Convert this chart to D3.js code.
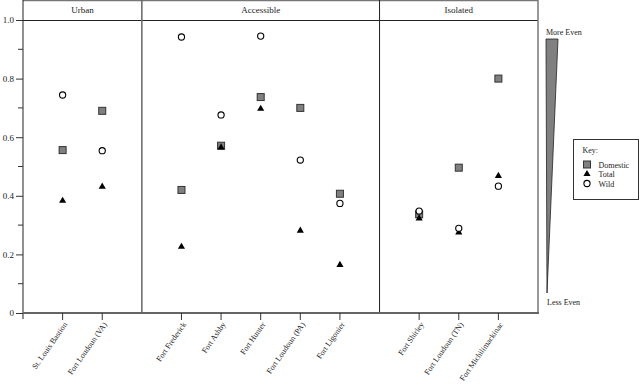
<!DOCTYPE html>
<html>
<head>
<meta charset="utf-8">
<script src="https://cdn.jsdelivr.net/npm/d3@7"></script>
<style>
  body { margin: 0; background: #fff; }
  svg text { font-family: "Liberation Serif", "DejaVu Serif", serif; font-size: 9px; fill: #222; }
</style>
</head>
<body>
<div id="wrapper"></div>
<script>
// data
const groups = ['Urban', 'Accessible', 'Isolated'];
const sites = ['St. Louis Bastion', 'Fort Loudoun (VA)',
    'Fort Frederick', 'Fort Ashby', 'Fort Hunter', 'Fort Loudoun (PA)', 'Fort Ligonier',
    'Fort Shirley', 'Fort Loudoun (TN)', 'Fort Michilimackinac'];
const siteGroup = ['Urban', 'Urban',
    'Accessible', 'Accessible', 'Accessible', 'Accessible', 'Accessible',
    'Isolated', 'Isolated', 'Isolated'];
const domestic = [0.556, 0.690, 0.420, 0.571, 0.737, 0.700, 0.407, 0.337, 0.496, 0.800];
const total    = [0.383, 0.431, 0.226, 0.565, 0.697, 0.281, 0.164, 0.323, 0.275, 0.468];
const wild     = [0.744, 0.554, 0.942, 0.676, 0.945, 0.522, 0.374, 0.348, 0.289, 0.433];
const yTicks = [0, 0.2, 0.4, 0.6, 0.8, 1.0];
const yMinorTicks = [0.1, 0.3, 0.5, 0.7, 0.9];

// dimensions
const dimensions = {
    width: 640,
    height: 388,
    margin: { top: 20, left: 23, right: 102, bottom: 75 }
};
const plotRight = dimensions.width - dimensions.margin.right;
const plotBottom = dimensions.height - dimensions.margin.bottom;

const svg = d3.select('#wrapper').append('svg')
    .attr('width', dimensions.width)
    .attr('height', dimensions.height);

// slot layout: one empty slot between groups and at both ends
const slotOf = [];
const groupSpan = {};
let slot = 0;
groups.forEach(g => {
    const start = slot;
    sites.forEach((s, i) => {
        if (siteGroup[i] === g) { slot += 1; slotOf[i] = slot; }
    });
    slot += 1;
    groupSpan[g] = [start, slot];
});

const xScale = d3.scaleLinear()
    .domain([0, slot])
    .range([dimensions.margin.left, plotRight]);

const yScale = d3.scaleLinear()
    .domain([0, 1])
    .range([plotBottom, dimensions.margin.top]);

// header band and frame
svg.append('line')
    .attr('x1', dimensions.margin.left).attr('x2', plotRight)
    .attr('y1', 0.5).attr('y2', 0.5)
    .attr('stroke', '#777').attr('stroke-width', 1.5);
svg.append('line')
    .attr('x1', dimensions.margin.left).attr('x2', plotRight)
    .attr('y1', yScale(1) + 0.5).attr('y2', yScale(1) + 0.5)
    .attr('stroke', '#222');

groups.forEach((g, gi) => {
    const [a, b] = groupSpan[g];
    svg.append('text')
        .attr('x', (xScale(a) + xScale(b)) / 2)
        .attr('y', 13)
        .attr('text-anchor', 'middle')
        .text(g);
    if (gi > 0) {
        svg.append('line')
            .attr('x1', xScale(a)).attr('x2', xScale(a))
            .attr('y1', 0).attr('y2', plotBottom)
            .attr('stroke', gi === 1 ? '#666' : '#222')
            .attr('stroke-width', gi === 1 ? 1.5 : 1);
    }
});
svg.append('line')
    .attr('x1', plotRight).attr('x2', plotRight)
    .attr('y1', 0).attr('y2', plotBottom)
    .attr('stroke', '#777').attr('stroke-width', 1.5);

// y axis
const yAxis = svg.append('g')
    .attr('transform', `translate(${dimensions.margin.left}, 0)`)
    .call(d3.axisLeft(yScale).tickValues(yTicks).tickSize(7).tickPadding(2)
        .tickFormat(d => d === 0 ? '0' : d3.format('.1f')(d)));
yAxis.select('.domain').attr('stroke', '#222').attr('d', `M0,0V${plotBottom + 6}`);
yAxis.selectAll('.tick line').attr('stroke', '#333');
yAxis.selectAll('text').style('font-family', '"Liberation Serif", serif').style('font-size', '9px').attr('fill', '#222');

svg.append('g')
    .attr('transform', `translate(${dimensions.margin.left}, 0)`)
    .selectAll('line').data(yMinorTicks).enter().append('line')
    .attr('x1', -5).attr('x2', 0)
    .attr('y1', d => yScale(d)).attr('y2', d => yScale(d))
    .attr('stroke', '#333');

// x axis
const xAxis = svg.append('g')
    .attr('transform', `translate(0, ${plotBottom})`);
xAxis.append('line')
    .attr('x1', dimensions.margin.left).attr('x2', plotRight + 1)
    .attr('y1', 0).attr('y2', 0)
    .attr('stroke', '#666').attr('stroke-width', 2);
const xTick = xAxis.selectAll('.tick').data(sites).enter().append('g')
    .attr('transform', (d, i) => `translate(${xScale(slotOf[i])}, 0)`);
xTick.append('line')
    .attr('y1', 0).attr('y2', 7)
    .attr('stroke', '#333');
xTick.append('text')
    .attr('transform', 'translate(3, 10) rotate(-55)')
    .attr('text-anchor', 'end')
    .attr('dy', '0.32em')
    .style('font-size', '8px')
    .text(d => d);

// marks
const marks = svg.append('g');
const px = i => xScale(slotOf[i]);

marks.selectAll('.domestic').data(domestic).enter().append('rect')
    .attr('class', 'domestic')
    .attr('x', (d, i) => px(i) - 3.5)
    .attr('y', d => yScale(d) - 3.5)
    .attr('width', 7).attr('height', 7)
    .attr('fill', '#808080').attr('stroke', '#333').attr('stroke-width', 1);

const triangle = d3.symbol().type(d3.symbolTriangle).size(22);
marks.selectAll('.total').data(total).enter().append('path')
    .attr('class', 'total')
    .attr('d', triangle)
    .attr('transform', (d, i) => `translate(${px(i)}, ${yScale(d)})`)
    .attr('fill', '#000');

marks.selectAll('.wild').data(wild).enter().append('circle')
    .attr('class', 'wild')
    .attr('cx', (d, i) => px(i))
    .attr('cy', d => yScale(d))
    .attr('r', 3.1)
    .attr('fill', '#fff').attr('stroke', '#000').attr('stroke-width', 1.1);

// evenness wedge
const wedgeTop = 39, wedgeBottom = 293;
svg.append('text').attr('x', 546).attr('y', 35).style('font-size', '8px').text('More Even');
svg.append('path')
    .attr('d', `M546,${wedgeTop}L558,${wedgeTop}L547,${wedgeBottom}Z`)
    .attr('fill', '#808080').attr('stroke', '#222').attr('stroke-width', 0.8);
svg.append('text').attr('x', 547).attr('y', 305).style('font-size', '8px').text('Less Even');

// legend
const legend = svg.append('g').attr('transform', 'translate(573.5, 139.5)');
legend.append('rect')
    .attr('width', 65).attr('height', 60)
    .attr('fill', '#fff').attr('stroke', '#333');
legend.append('text').attr('x', 9).attr('y', 13).style('font-size', '8px').text('Key:');
const keys = ['Domestic', 'Total', 'Wild'];
keys.forEach((k, i) => {
    const cy = 25 + i * 9.5;
    if (i === 0) {
        legend.append('rect').attr('x', 10).attr('y', cy - 3.5).attr('width', 7).attr('height', 7)
            .attr('fill', '#808080').attr('stroke', '#333');
    } else if (i === 1) {
        legend.append('path').attr('d', triangle).attr('transform', `translate(13.5, ${cy})`).attr('fill', '#000');
    } else {
        legend.append('circle').attr('cx', 13.5).attr('cy', cy).attr('r', 3.1)
            .attr('fill', '#fff').attr('stroke', '#000').attr('stroke-width', 1.1);
    }
    legend.append('text').attr('x', 25).attr('y', cy + 3).style('font-size', '8px').text(k);
});
</script>
</body>
</html>
